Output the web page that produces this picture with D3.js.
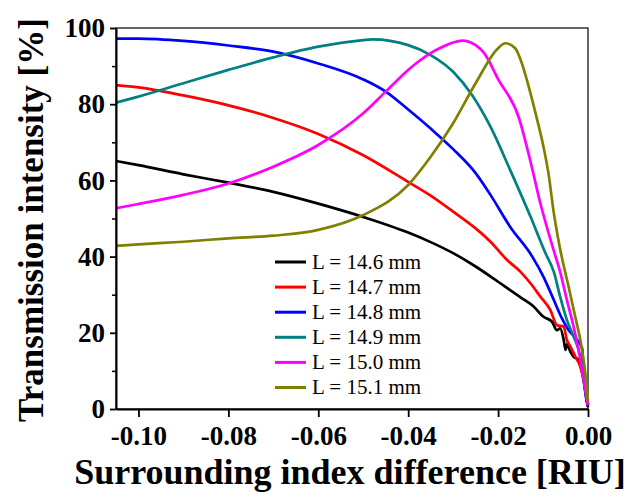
<!DOCTYPE html>
<html>
<head>
<meta charset="utf-8">
<script src="https://cdn.jsdelivr.net/npm/d3@7"></script>
<style>
  html, body { margin: 0; padding: 0; background: #fff; }
  svg { display: block; }
  text { font-family: "Liberation Serif", "Times New Roman", serif; }
</style>
</head>
<body>
<svg id="chart" width="627" height="493"></svg>
<script>
// ---- Data ----
const seriesLabels = ["L = 14.6 mm", "L = 14.7 mm", "L = 14.8 mm", "L = 14.9 mm", "L = 15.0 mm", "L = 15.1 mm"];
const seriesColors = ["#000000", "#ff0000", "#0000ff", "#008080", "#ff00ff", "#808000"];

const x146 = [-0.105, -0.10, -0.09, -0.08, -0.07, -0.06, -0.05, -0.04, -0.035, -0.03, -0.025, -0.02, -0.015, -0.0121, -0.0099, -0.0080, -0.0069, -0.0062, -0.0054, -0.0050, -0.0047, -0.0039, -0.0032, -0.0021, -0.0010, -0.0002, 0];
const y146 = [65.1, 64.0, 61.6, 59.4, 57.0, 53.9, 50.4, 46.3, 43.8, 40.9, 37.4, 33.4, 29.3, 26.9, 24.2, 22.9, 20.7, 21.2, 18.1, 15.5, 17.0, 15.0, 13.7, 12.9, 7.6, 1.5, 0.5];

const x147 = [-0.105, -0.10, -0.09, -0.08, -0.07, -0.06, -0.05, -0.04, -0.035, -0.03, -0.025, -0.0217, -0.018, -0.015, -0.0128, -0.0106, -0.0084, -0.0069, -0.0054, -0.0047, -0.0039, -0.0028, -0.0017, -0.0006, 0];
const y147 = [85.0, 84.4, 82.3, 79.7, 76.4, 72.2, 66.6, 59.6, 56.0, 51.8, 47.4, 43.9, 39.1, 36.0, 33.0, 29.5, 26.0, 22.0, 21.6, 18.1, 16.4, 13.7, 11.1, 5.9, 1.0];

const x148 = [-0.105, -0.10, -0.09, -0.08, -0.07, -0.06, -0.05, -0.045, -0.04, -0.035, -0.03, -0.025, -0.0217, -0.0173, -0.0124, -0.0099, -0.0076, -0.0058, -0.0043, -0.0024, -0.0013, -0.0010, -0.0004, 0];
const y148 = [97.2, 97.2, 96.6, 95.4, 93.8, 90.7, 86.5, 83.3, 78.6, 73.6, 68.2, 61.9, 56.2, 47.8, 40.0, 34.7, 28.6, 23.8, 20.7, 18.1, 15.9, 9.4, 3.2, 1.0];

const x149 = [-0.105, -0.10, -0.09, -0.08, -0.07, -0.06, -0.05, -0.048, -0.04, -0.035, -0.03, -0.0258, -0.0217, -0.0173, -0.0128, -0.0095, -0.0076, -0.0062, -0.0047, -0.0032, -0.0017, -0.0006, 0];
const y149 = [80.4, 82.0, 85.5, 89.0, 92.3, 95.1, 96.8, 97.0, 95.5, 92.9, 88.5, 82.4, 74.1, 62.7, 50.5, 41.0, 36.0, 29.5, 23.4, 19.0, 13.7, 5.0, 1.0];

const x150 = [-0.105, -0.10, -0.09, -0.08, -0.07, -0.06, -0.05, -0.045, -0.04, -0.035, -0.0328, -0.030, -0.028, -0.025, -0.0231, -0.02, -0.0154, -0.0128, -0.0106, -0.0076, -0.0062, -0.0047, -0.0032, -0.0021, -0.0006, 0];
const y150 = [52.7, 53.8, 56.2, 59.2, 63.6, 69.3, 77.6, 83.3, 89.0, 93.4, 94.8, 96.2, 96.7, 95.5, 93.4, 86.6, 76.5, 65.0, 54.0, 41.5, 36.0, 28.6, 21.6, 15.5, 5.0, 1.0];

const x151 = [-0.105, -0.10, -0.09, -0.08, -0.07, -0.06, -0.05, -0.04, -0.035, -0.03, -0.025, -0.02, -0.0184, -0.0162, -0.0147, -0.0136, -0.0124, -0.0113, -0.0099, -0.0088, -0.0076, -0.0062, -0.0043, -0.0028, -0.0017, -0.0006, 0];
const y151 = [42.8, 43.2, 43.9, 44.8, 45.5, 47.0, 50.9, 58.8, 66.2, 75.0, 85.5, 94.7, 96.0, 94.7, 90.7, 86.4, 81.1, 75.9, 68.8, 61.9, 51.4, 42.0, 32.0, 24.0, 18.1, 9.4, 2.0];

const seriesX = [x146, x147, x148, x149, x150, x151];
const seriesY = [y146, y147, y148, y149, y150, y151];

const xTicks = [-0.10, -0.08, -0.06, -0.04, -0.02, 0.00];
const yTicks = [0, 20, 40, 60, 80, 100];
const yMinorTicks = [10, 30, 50, 70, 90];

const xTitle = "Surrounding index difference [RIU]";
const yTitle = "Transmission intensity [%]";

// ---- Layout ----
const svg = d3.select("#chart");
const L = 116, R = 588, T = 28, B = 409;

const x = d3.scaleLinear().domain([-0.105, 0]).range([L, R]);
const y = d3.scaleLinear().domain([0, 100]).range([B, T]);

const serif = '"Liberation Serif", "Times New Roman", serif';

// frame (top/right)
svg.append("rect")
  .attr("x", L).attr("y", T).attr("width", R - L).attr("height", B - T)
  .attr("fill", "none").attr("stroke", "#333").attr("stroke-width", 1.5);

// series
const line = d3.line()
  .x(d => x(d[0])).y(d => y(d[1]))
  .curve(d3.curveMonotoneX);

const gLines = svg.append("g");
seriesX.forEach((xs, i) => {
  const pts = xs.map((v, k) => [v, seriesY[i][k]]);
  gLines.append("path")
    .datum(pts)
    .attr("fill", "none")
    .attr("stroke", seriesColors[i])
    .attr("stroke-width", 2.7)
    .attr("stroke-linejoin", "round")
    .attr("d", line);
});

// axes
const xAxis = svg.append("g")
  .attr("transform", `translate(0,${B})`)
  .call(d3.axisBottom(x).tickValues(xTicks).tickSize(8).tickSizeOuter(0)
    .tickFormat(d => d3.format(".2f")(d).replace("\u2212", "-")));
xAxis.select(".domain").attr("stroke", "#000").attr("stroke-width", 2);
xAxis.selectAll(".tick line").attr("stroke", "#000").attr("stroke-width", 1.8);
xAxis.selectAll(".tick text")
  .attr("y", 36).attr("dy", 0)
  .attr("fill", "#000")
  .style("font-family", serif).style("font-size", "27px").style("font-weight", "bold");

const yAxis = svg.append("g")
  .attr("transform", `translate(${L},0)`)
  .call(d3.axisLeft(y).tickValues(yTicks).tickSize(6).tickSizeOuter(0).tickPadding(5));
yAxis.select(".domain").attr("stroke", "#000").attr("stroke-width", 2);
yAxis.selectAll(".tick line").attr("stroke", "#000").attr("stroke-width", 1.8);
yAxis.selectAll(".tick text")
  .attr("fill", "#000")
  .style("font-family", serif).style("font-size", "27px").style("font-weight", "bold");

const yMinor = svg.append("g")
  .attr("transform", `translate(${L},0)`)
  .call(d3.axisLeft(y).tickValues(yMinorTicks).tickSize(4).tickFormat(""));
yMinor.select(".domain").remove();
yMinor.selectAll(".tick line").attr("stroke", "#000").attr("stroke-width", 1.5);

// titles
svg.append("text")
  .attr("x", 350).attr("y", 484)
  .attr("text-anchor", "middle")
  .style("font-family", serif).style("font-size", "36px").style("font-weight", "bold")
  .text(xTitle);

svg.append("text")
  .attr("transform", "translate(43,220) rotate(-90)")
  .attr("text-anchor", "middle")
  .style("font-family", serif).style("font-size", "35px").style("font-weight", "bold")
  .text(yTitle);

// legend
const legend = svg.append("g");
seriesLabels.forEach((lab, i) => {
  const cy = 262 + i * 25.1;
  legend.append("line")
    .attr("x1", 275).attr("x2", 306).attr("y1", cy).attr("y2", cy)
    .attr("stroke", seriesColors[i]).attr("stroke-width", 3);
  legend.append("text")
    .attr("x", 312).attr("y", cy).attr("dy", "0.33em")
    .style("font-family", serif).style("font-size", "21px")
    .text(lab);
});
</script>
</body>
</html>
